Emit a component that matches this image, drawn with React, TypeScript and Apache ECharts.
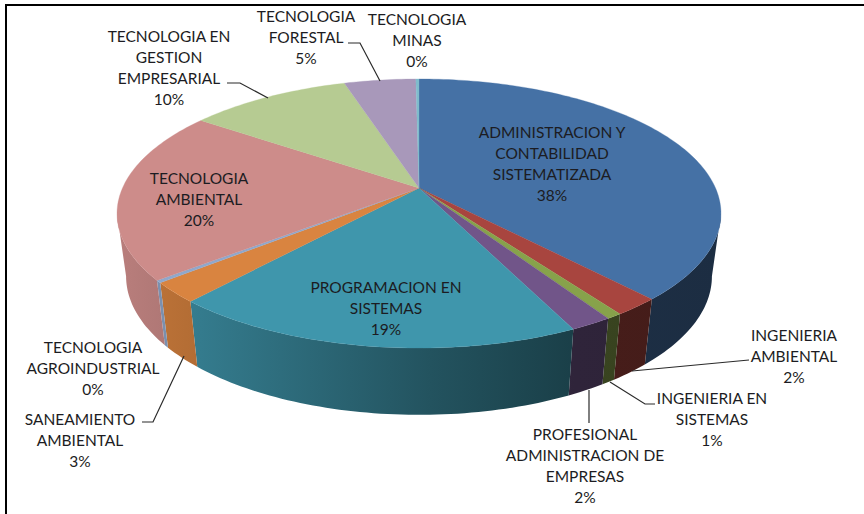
import React, { useEffect, useRef } from "react";
import * as echarts from "echarts";

const categories = [
  "ADMINISTRACION Y\nCONTABILIDAD\nSISTEMATIZADA",
  "INGENIERIA\nAMBIENTAL",
  "INGENIERIA EN\nSISTEMAS",
  "PROFESIONAL\nADMINISTRACION DE\nEMPRESAS",
  "PROGRAMACION EN\nSISTEMAS",
  "SANEAMIENTO\nAMBIENTAL",
  "TECNOLOGIA\nAGROINDUSTRIAL",
  "TECNOLOGIA\nAMBIENTAL",
  "TECNOLOGIA EN\nGESTION\nEMPRESARIAL",
  "TECNOLOGIA\nFORESTAL",
  "TECNOLOGIA\nMINAS",
];
const values = [38.2, 2.1, 0.7, 1.9, 18.6, 2.4, 0.3, 20.6, 10.4, 4.6, 0.2];
const percentLabels = ["38%", "2%", "1%", "2%", "19%", "3%", "0%", "20%", "10%", "5%", "0%"];
const topColors = ["#4571a5", "#a8453f", "#87a24b", "#715589", "#3f96ac", "#d98440", "#8fa8cc", "#cd8c8a", "#b6cb92", "#a898ba", "#7fbccc"];

const labelAnchors: number[][] = [
  [552, 132], [794, 335], [712, 398], [585, 434], [386, 287], [80, 419], [93, 347], [199, 178], [169, 36], [306, 16], [417, 19],
];
const leaders: number[][][] = [
  [[227, 83], [240, 83], [268, 98]],
  [[348, 43], [360, 43], [380, 81]],
  [[749, 360], [632, 371]],
  [[655, 404], [645, 404], [610, 382]],
  [[589, 423], [589, 390]],
  [[142, 422], [153, 422], [184, 356]],
];

const CX = 419, CY = 188, A = 296.5, B = 129.7, K = 0.1896;
const BOTTOM_CY = 250, BOTTOM_SX = 0.97, BOTTOM_SY = 1.03;
// Angles at which the rim turns from the back of the pie to the front.
const FRONT_START = Math.acos(-K);
const FRONT_END = Math.PI * 2 - FRONT_START;

const total = values.reduce((a, b) => a + b, 0);
const starts: number[] = [];
values.reduce((acc, v, i) => { starts[i] = acc; return acc + v; }, 0);

function project(theta: number) {
  const x = Math.sin(theta), y = -Math.cos(theta), w = 1 - K * y;
  return [x / w, y / w];
}
const topPt = (t: number) => { const [x, y] = project(t); return [CX + A * x, CY + B * y]; };
const botPt = (t: number) => { const [x, y] = project(t); return [CX + A * BOTTOM_SX * x, BOTTOM_CY + B * BOTTOM_SY * y]; };

function sweep(a0: number, a1: number) {
  const n = Math.max(2, Math.ceil((a1 - a0) / 0.02));
  const out: number[] = [];
  for (let i = 0; i <= n; i++) out.push(a0 + ((a1 - a0) * i) / n);
  return out;
}
const sliceStart = (i: number) => (starts[i] / total) * Math.PI * 2;
const sliceEnd = (i: number, v: number) => ((starts[i] + v) / total) * Math.PI * 2;

function shade(hex: string, f: number) {
  const n = parseInt(hex.slice(1), 16);
  const c = [(n >> 16) & 255, (n >> 8) & 255, n & 255].map((ch) => Math.round(ch * f));
  return `rgb(${c[0]},${c[1]},${c[2]})`;
}
const shadeStops = [[0, 0.9], [0.136, 0.82], [0.517, 0.55], [0.757, 0.42], [1, 0.4]];

const renderSide = (_: any, api: any) => {
  const i = api.value(1);
  const a0 = Math.max(sliceStart(i), FRONT_START);
  const a1 = Math.min(sliceEnd(i, api.value(0)), FRONT_END);
  if (a1 <= a0) return null;
  const ts = sweep(a0, a1);
  return {
    type: "polygon",
    shape: { points: [...ts.map(topPt), ...ts.slice().reverse().map(botPt)] },
    style: {
      fill: new echarts.graphic.LinearGradient(
        118, 0, 722, 0,
        shadeStops.map(([offset, f]) => ({ offset, color: shade(topColors[i], f) })),
        true
      ),
    },
  };
};

const renderTop = (_: any, api: any) => {
  const i = api.value(1);
  const ts = sweep(sliceStart(i), sliceEnd(i, api.value(0)));
  return {
    type: "polygon",
    shape: { points: [[CX, CY], ...ts.map(topPt)] },
    style: { fill: topColors[i], stroke: topColors[i], lineWidth: 0.3 },
  };
};

export default function App() {
  const ref = useRef<HTMLDivElement>(null);
  useEffect(() => {
    document.body.style.margin = "0";
    const chart = echarts.init(ref.current!, undefined, { renderer: "svg" });
    const data = values.map((v, i) => ({ value: [v, i], name: categories[i].replace(/\n/g, " ") }));
    chart.setOption({
      animation: false,
      backgroundColor: "#ffffff",
      series: [
        { type: "custom", coordinateSystem: "none", renderItem: renderSide, data, z: 1, silent: true },
        { type: "custom", coordinateSystem: "none", renderItem: renderTop, data, z: 2, silent: true },
      ],
      graphic: [
        { type: "line", shape: { x1: 6, y1: 5, x2: 6, y2: 514 }, style: { stroke: "#000", lineWidth: 2 }, z: 5 },
        { type: "line", shape: { x1: 5, y1: 5, x2: 864, y2: 5 }, style: { stroke: "#000", lineWidth: 2 }, z: 5 },
        ...leaders.map((points) => ({
          type: "polyline",
          shape: { points },
          style: { stroke: "#2a2a2a", lineWidth: 1.2, fill: null },
          z: 6,
        })),
        ...categories.map((c, i) => ({
          type: "text",
          x: labelAnchors[i][0],
          y: labelAnchors[i][1] - 10.5,
          z: 7,
          style: {
            text: `${c}\n${percentLabels[i]}`,
            fill: "#1c1c22",
            font: '15.5px Lato',
            lineHeight: 21,
            align: "center",
            verticalAlign: "top",
          },
        })),
      ],
    });
    return () => chart.dispose();
  }, []);
  return <div ref={ref} style={{ position: "absolute", left: 0, top: 0, width: 864, height: 514 }} />;
}
